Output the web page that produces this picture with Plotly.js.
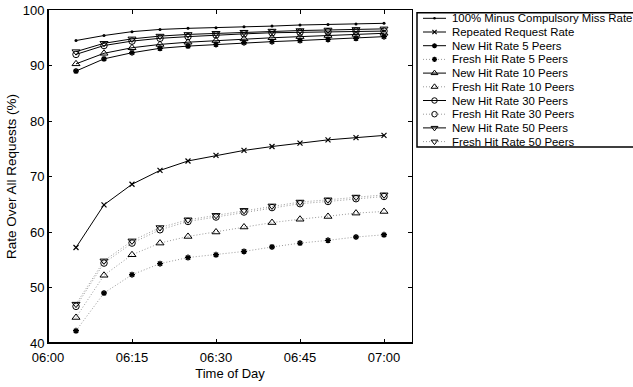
<!DOCTYPE html>
<html>
<head>
<meta charset="utf-8">
<script src="https://cdn.plot.ly/plotly-3.0.1.min.js"></script>
<style>html,body{margin:0;padding:0;background:#fff;}#chart{width:633px;height:387px;}</style>
</head>
<body>
<div id="chart"></div>
<script>
// ---- data ----
const minutes = [5, 10, 15, 20, 25, 30, 35, 40, 45, 50, 55, 60];
const tickMinutes = [0, 15, 30, 45, 60];
const tickLabels = ["06:00", "06:15", "06:30", "06:45", "07:00"];

const minusCompulsory = [94.5, 95.4, 96.1, 96.5, 96.7, 96.8, 97.0, 97.1, 97.3, 97.4, 97.5, 97.6];
const repeatedRate   = [57.2, 64.9, 68.6, 71.1, 72.8, 73.8, 74.7, 75.4, 76.0, 76.6, 77.0, 77.4];
const newHit5        = [89.0, 91.2, 92.3, 93.1, 93.5, 93.8, 94.1, 94.3, 94.5, 94.7, 94.9, 95.2];
const freshHit5      = [42.2, 49.0, 52.3, 54.3, 55.4, 55.9, 56.5, 57.3, 58.0, 58.5, 59.1, 59.5];
const newHit10       = [90.3, 92.2, 93.2, 93.8, 94.2, 94.5, 94.8, 95.0, 95.2, 95.4, 95.6, 95.8];
const freshHit10     = [44.6, 52.2, 55.9, 58.0, 59.2, 60.0, 60.9, 61.7, 62.3, 62.8, 63.4, 63.7];
const newHit30       = [92.0, 93.6, 94.4, 94.9, 95.2, 95.5, 95.7, 95.9, 96.0, 96.1, 96.2, 96.2];
const freshHit30     = [46.6, 54.4, 58.0, 60.4, 61.9, 62.7, 63.6, 64.4, 65.1, 65.5, 66.0, 66.4];
const newHit50       = [92.5, 94.0, 94.8, 95.3, 95.6, 95.8, 96.0, 96.2, 96.3, 96.4, 96.5, 96.6];
const freshHit50     = [47.0, 54.8, 58.4, 60.8, 62.2, 63.0, 63.9, 64.7, 65.4, 65.8, 66.3, 66.7];

const seriesNames = [
  "100% Minus Compulsory Miss Rate", "Repeated Request Rate",
  "New Hit Rate 5 Peers", "Fresh Hit Rate 5 Peers",
  "New Hit Rate 10 Peers", "Fresh Hit Rate 10 Peers",
  "New Hit Rate 30 Peers", "Fresh Hit Rate 30 Peers",
  "New Hit Rate 50 Peers", "Fresh Hit Rate 50 Peers"
];
const seriesValues = [minusCompulsory, repeatedRate, newHit5, freshHit5, newHit10, freshHit10,
                      newHit30, freshHit30, newHit50, freshHit50];

// ---- styles ----
const solid = {color: "#000", width: 1, dash: "solid"};
const dotted = {color: "#9a9a9a", width: 1, dash: "1px,2px"};
const styles = [
  {line: solid,  symbol: "circle", size: 3, lw: 0},
  {line: solid,  symbol: "x-thin-open", size: 5, lw: 1.2},
  {line: solid,  symbol: "asterisk-open", size: 5, lw: 1.4},
  {line: dotted, symbol: "asterisk-open", size: 5, lw: 1.4},
  {line: solid,  symbol: "triangle-up-open", size: 7, lw: 1},
  {line: dotted, symbol: "triangle-up-open", size: 7, lw: 1},
  {line: solid,  symbol: "circle-open", size: 6.5, lw: 1},
  {line: dotted, symbol: "circle-open", size: 6.5, lw: 1},
  {line: solid,  symbol: "triangle-down-open", size: 7, lw: 1},
  {line: dotted, symbol: "triangle-down-open", size: 7, lw: 1}
];

const FONT = "'Liberation Sans', Arial, Helvetica, sans-serif";
const traces = [];
seriesValues.forEach((vals, i) => {
  const s = styles[i];
  traces.push({
    x: minutes, y: vals, type: "scatter", mode: "lines+markers",
    name: seriesNames[i], showlegend: false, cliponaxis: false,
    line: s.line,
    marker: {symbol: s.symbol, size: s.size, color: "#000", line: {color: "#000", width: s.lw}},
    hoverinfo: "skip"
  });
});

// ---- hand-drawn legend on its own pixel-scaled axes ----
const legendRowTop = 18.3, legendRowStep = 13.7;
const sampleX0 = 423, sampleXm = 434.5, sampleX1 = 446, textX = 449.5;
const annotations = [];
seriesNames.forEach((name, i) => {
  const s = styles[i];
  const yy = legendRowTop + legendRowStep * i;
  traces.push({
    x: [sampleX0, sampleX1], y: [yy, yy], xaxis: "x2", yaxis: "y2",
    type: "scatter", mode: "lines", showlegend: false, hoverinfo: "skip",
    line: s.line
  });
  traces.push({
    x: [sampleXm], y: [yy], xaxis: "x2", yaxis: "y2",
    type: "scatter", mode: "markers", showlegend: false, hoverinfo: "skip",
    marker: {symbol: s.symbol, size: s.size * 0.85, color: "#000", line: {color: "#000", width: s.lw}}
  });
  annotations.push({
    x: textX, y: yy, xref: "x2", yref: "y2", xanchor: "left", yanchor: "middle",
    text: name, showarrow: false, font: {family: FONT, size: 11.4, color: "#000"}
  });
});

const W = 633, H = 387, ML = 48, MR = 0, MT = 10, MB = 44;
const plotRight = 412, legendLeft = 417;
const pw = W - ML - MR, ph = H - MT - MB;
const mainDomainEnd = (plotRight - ML) / pw;
const legDomainStart = (legendLeft - ML) / pw;

const axisCommon = {
  showline: true, linecolor: "#000", linewidth: 1, mirror: "ticks",
  ticks: "inside", ticklen: 4, tickcolor: "#000", tickwidth: 1,
  showgrid: false, zeroline: false, fixedrange: true,
  tickfont: {family: FONT, size: 13, color: "#000"}
};

const layout = {
  width: W, height: H,
  margin: {l: ML, r: MR, t: MT, b: MB},
  paper_bgcolor: "#fff", plot_bgcolor: "rgba(0,0,0,0)",
  showlegend: false,
  xaxis: Object.assign({}, axisCommon, {
    domain: [0, mainDomainEnd], range: [0, 65],
    tickmode: "array", tickvals: tickMinutes, ticktext: tickLabels,
    ticklabelstandoff: 2,
    title: {text: "Time of Day", font: {family: FONT, size: 13, color: "#000"}, standoff: 5}
  }),
  yaxis: Object.assign({}, axisCommon, {
    range: [40, 100], tickmode: "linear", tick0: 40, dtick: 10,
    ticklabelstandoff: 0,
    title: {text: "Rate Over All Requests (%)", font: {family: FONT, size: 13.5, color: "#000"}, standoff: 2}
  }),
  xaxis2: {domain: [legDomainStart, 1], range: [legendLeft, W], visible: false, fixedrange: true, anchor: "y2"},
  yaxis2: {domain: [0, 1], range: [H - MB, MT], visible: false, fixedrange: true, anchor: "x2"},
  annotations: annotations,
  shapes: [
    {type: "line", xref: "paper", yref: "paper", x0: 0, x1: 0, y0: 0, y1: 1, line: {color: "#000", width: 2}},
    {type: "line", xref: "paper", yref: "paper", x0: 0, x1: mainDomainEnd, y0: 0, y1: 0, line: {color: "#000", width: 2}},
    {type: "rect", xref: "paper", yref: "paper",
     x0: legDomainStart, x1: 1.02, y0: (H - MB - 147) / ph, y1: (H - MB - 12.7) / ph,
     line: {color: "#000", width: 1.5}, fillcolor: "rgba(0,0,0,0)"}
  ]
};

Plotly.newPlot("chart", traces, layout, {staticPlot: true, displayModeBar: false});
</script>
</body>
</html>
